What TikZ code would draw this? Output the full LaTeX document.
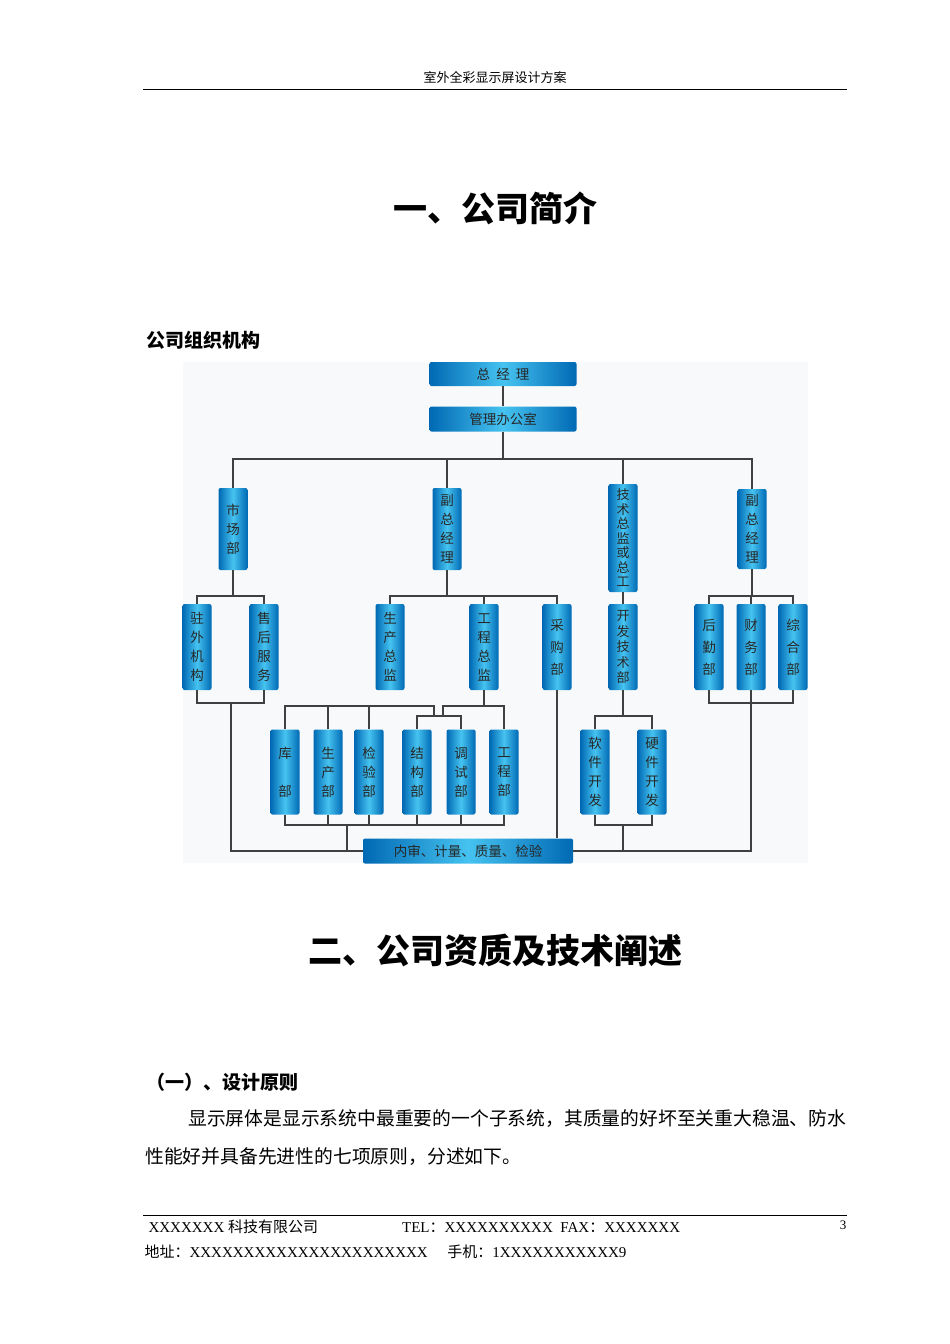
\documentclass[tikz,border=0pt]{standalone}
\usepackage{fontspec}
\setmainfont{Liberation Serif}
\newfontfamily\cjk{Noto Sans CJK SC}
\usetikzlibrary{positioning}
\definecolor{boxedge}{RGB}{0,105,180}
\definecolor{boxmid}{RGB}{70,195,240}
\definecolor{chartbg}{RGB}{248,249,250}
\tikzset{
  orgbox/.style={rounded corners=2pt, left color=boxedge, right color=boxedge, middle color=boxmid,
    font=\cjk\fontsize{13.5}{19}\selectfont, text=black!85, align=center, inner sep=0pt},
  vbox/.style={orgbox, minimum width=29pt, minimum height=#1},
  hbox/.style={orgbox, minimum width=147pt, minimum height=24pt},
  link/.style={line width=1.1pt, black!75}
}
\begin{document}
\begin{tikzpicture}[x=1pt,y=-1pt]
\useasboundingbox (0,0) rectangle (950,1344);
% Header
\node[font=\cjk\fontsize{13}{15}\selectfont] (head) at (495,78) {室外全彩显示屏设计方案};
\draw[line width=0.6pt] (143,89) -- (847,89);
\node[font=\cjk\bfseries\fontsize{34}{38}\selectfont] (t1) at (495,208) {一、公司简介};
\node[font=\cjk\bfseries\fontsize{19}{22}\selectfont, anchor=west] (sub1) at (143,340) {公司组织机构};
\fill[chartbg] (183,362) rectangle (808,863);
% Boxes
\node[hbox] (gm) at (503,374) {总\ \ 经\ \ 理};
\node[hbox, minimum height=25pt] (office) at (503,419) {管理办公室};
\node[vbox=82pt] (mkt) at (233,529) {市\\场\\部};
\node[vbox=82pt] (vpa) at (447,529) {副\\总\\经\\理};
\node[vbox=108pt, font=\cjk\fontsize{13}{14.5}\selectfont] (tech) at (623,538) {技\\术\\总\\监\\或\\总\\工};
\node[vbox=80pt] (vpb) at (752,529) {副\\总\\经\\理};
\node[vbox=86pt] (zw) at (197,647) {驻\\外\\机\\构};
\node[vbox=86pt] (sh) at (264,647) {售\\后\\服\\务};
\node[vbox=86pt] (scz) at (390,647) {生\\产\\总\\监};
\node[vbox=86pt] (gcz) at (484,647) {工\\程\\总\\监};
\node[vbox=86pt, font=\cjk\fontsize{13.5}{22}\selectfont] (cg) at (557,647) {采\\购\\部};
\node[vbox=86pt, font=\cjk\fontsize{13}{15.5}\selectfont] (kfb) at (623,647) {开\\发\\技\\术\\部};
\node[vbox=86pt, font=\cjk\fontsize{13.5}{22}\selectfont] (hq) at (709,647) {后\\勤\\部};
\node[vbox=86pt, font=\cjk\fontsize{13.5}{22}\selectfont] (cw) at (751,647) {财\\务\\部};
\node[vbox=86pt, font=\cjk\fontsize{13.5}{22}\selectfont] (zh) at (793,647) {综\\合\\部};
\node[vbox=85pt] (kb) at (285,772) {库\\ \\部};
\node[vbox=85pt] (scb) at (328,772) {生\\产\\部};
\node[vbox=85pt] (jyb) at (369,772) {检\\验\\部};
\node[vbox=85pt] (jgb) at (417,772) {结\\构\\部};
\node[vbox=85pt] (tsb) at (461,772) {调\\试\\部};
\node[vbox=85pt] (gcb) at (504,772) {工\\程\\部};
\node[vbox=85pt] (rj) at (595,772) {软\\件\\开\\发};
\node[vbox=85pt] (yj) at (652,772) {硬\\件\\开\\发};
\node[hbox, minimum width=210pt, minimum height=25pt] (qa) at (468,851) {内审、计量、质量、检验};
% Links
\coordinate (bus) at (503,459);
\coordinate (m0) at (233,596);
\coordinate (v0) at (447,596);
\coordinate (w0) at (752,596);
\coordinate (e0) at (484,706);
\coordinate (e1) at (434,706);
\coordinate (e2) at (443,706);
\coordinate (e3) at (440,716);
\coordinate (s0) at (623,716);
\coordinate (b0) at (231,703);
\coordinate (b1) at (347,825);
\coordinate (s1) at (623,825);
\coordinate (r0) at (751,703);
\begin{scope}[link]
\draw (gm) -- (office);
\draw (office) -- (bus);
\draw (mkt.north) |- (bus) -| (vpb.north);
\draw (vpa.north) -- (vpa.north|-bus);
\draw (tech.north) -- (tech.north|-bus);
\draw (mkt.south) -- (m0);
\draw (zw.north) |- (m0) -| (sh.north);
\draw (vpa.south) -- (v0);
\draw (scz.north) |- (v0) -| (cg.north);
\draw (gcz.north) -- (gcz.north|-v0);
\draw (vpb.south) -- (w0);
\draw (hq.north) |- (w0) -| (zh.north);
\draw (cw.north) -- (cw.north|-w0);
\draw (tech) -- (kfb);
\draw (gcz.south) -- (e0);
\draw (kb.north) |- (e1) -- (e1|-e3);
\draw (scb.north) -- (scb.north|-e1);
\draw (jyb.north) -- (jyb.north|-e1);
\draw (e2|-e3) -- (e2) -| (gcb.north);
\draw (jgb.north) |- (e3) -| (tsb.north);
\draw (kfb.south) -- (s0);
\draw (rj.north) |- (s0) -| (yj.north);
\draw (zw.south) |- (b0) -| (sh.south);
\draw (b0) |- (qa.west);
\draw (kb.south) |- (b1) -| (gcb.south);
\foreach \n in {scb,jyb,jgb,tsb} \draw (\n.south) -- (\n.south|-b1);
\draw (b1) -- (b1|-qa.west);
\draw (cg.south) -- (cg.south|-qa.north);
\draw (rj.south) |- (s1) -| (yj.south);
\draw (s1) -- (s1|-qa.east);
\draw (hq.south) |- (r0) -| (zh.south);
\draw (cw.south) -- (r0);
\draw (qa.east) -| (r0);
\end{scope}
% Section 2
\node[font=\cjk\bfseries\fontsize{34}{38}\selectfont] (t2) at (495,950) {二、公司资质及技术阐述};
\node[font=\cjk\bfseries\fontsize{19}{22}\selectfont, anchor=west] (sub2) at (143,1082) {（一）、设计原则};
\node[font=\cjk\fontsize{18.8}{22}\selectfont, anchor=west, inner sep=0pt] (p1) at (188,1119) {显示屏体是显示系统中最重要的一个子系统，其质量的好坏至关重大稳温、防水};
\node[font=\cjk\fontsize{18.8}{22}\selectfont, anchor=west, inner sep=0pt] (p2) at (145,1157) {性能好并具备先进性的七项原则，分述如下。};
% Footer
\draw[line width=0.6pt] (143,1215) -- (847,1215);
\node[font=\fontsize{15}{17}\selectfont, anchor=west] (f1) at (145,1227) {XXXXXXX {\cjk 科技有限公司}\hspace{5.6em}TEL{\cjk ：}XXXXXXXXXX\ \ FAX{\cjk ：}XXXXXXX};
\node[font=\fontsize{13}{15}\selectfont] (pg) at (843,1225) {3};
\node[font=\fontsize{15}{17}\selectfont, anchor=west] (f2) at (141,1252) {{\cjk 地址：}XXXXXXXXXXXXXXXXXXXXXX\hspace{1.3em}{\cjk 手机：}1XXXXXXXXXXX9};
\end{tikzpicture}
\end{document}
